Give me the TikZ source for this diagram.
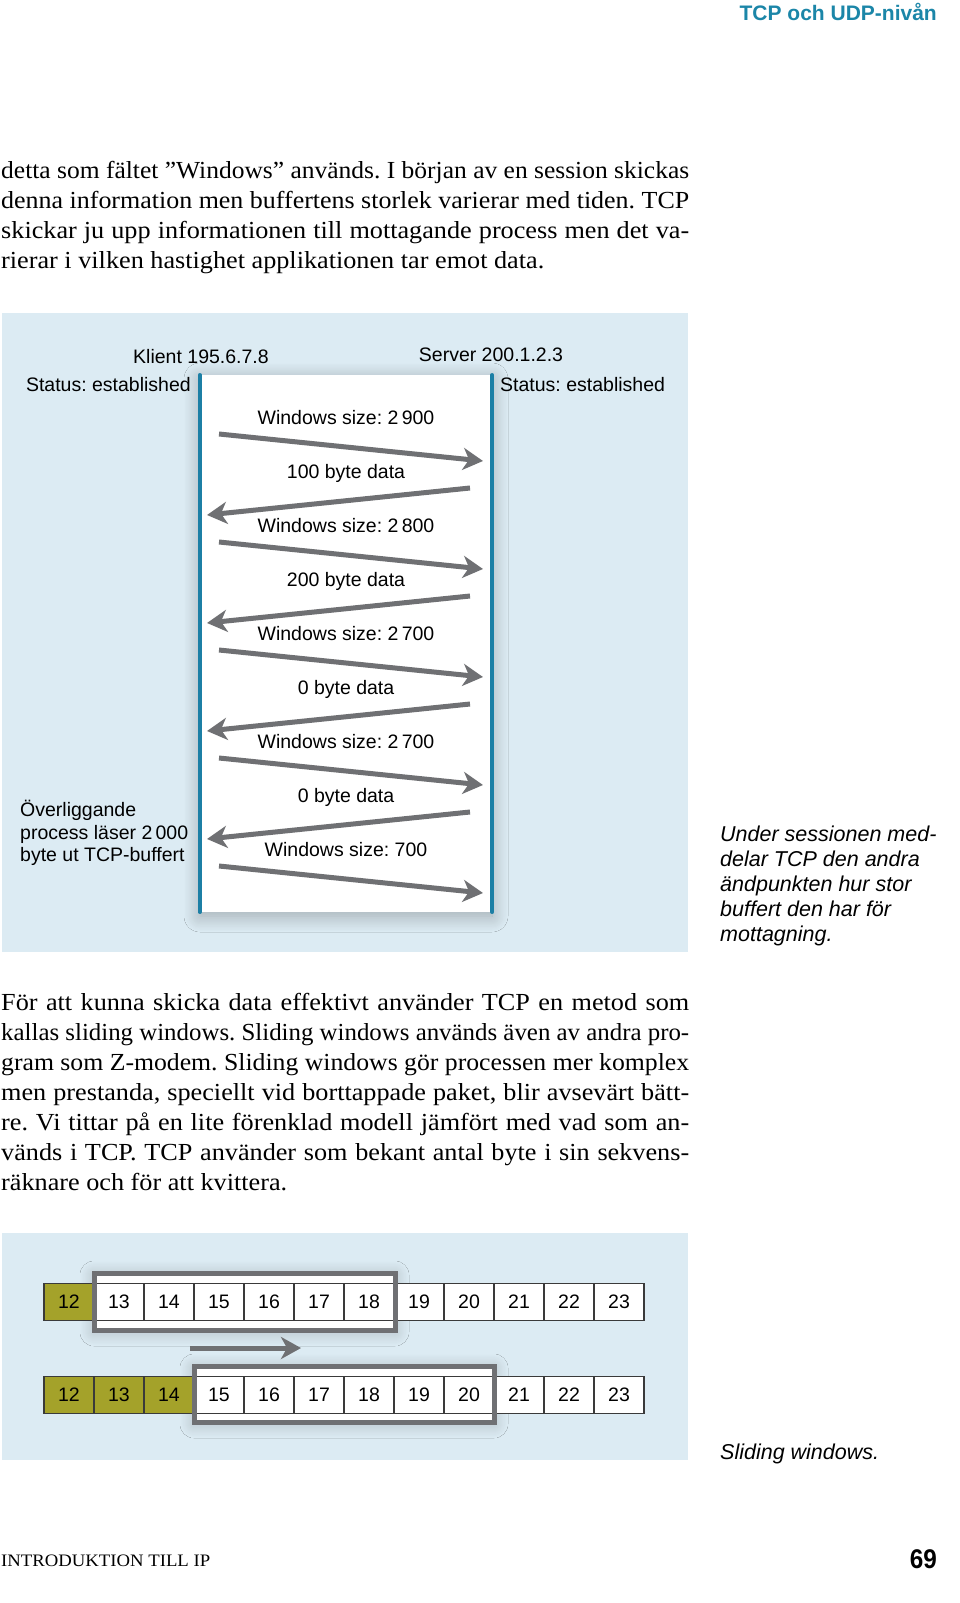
\documentclass[tikz,border=0pt]{standalone}
\usepackage{fontspec}
\setmainfont{Liberation Serif}[FakeStretch=1.07]
\setsansfont{Liberation Sans}
\usepackage{xcolor}
\usepackage{tikz}
\usetikzlibrary{positioning,arrows.meta,shadows.blur}

\definecolor{panelblue}{HTML}{DCEBF3}
\definecolor{lifeblue}{HTML}{1C7FA5}
\definecolor{arrowgray}{HTML}{6F7073}
\definecolor{cellolive}{HTML}{A4A22A}
\definecolor{cellline}{HTML}{3A3A3A}
\definecolor{headteal}{HTML}{1B86A8}

\newcommand{\msgfont}{\sffamily\fontsize{19.5}{22.5}\selectfont}
\newcommand{\capfont}{\sffamily\itshape\fontsize{21.5}{25}\selectfont}
\newcommand{\txtfont}{\fontsize{24.5}{30}\selectfont}

% one justified line of body text, 688pt wide
\newsavebox{\linebox}
\newcommand{\jline}[1]{\sbox{\linebox}{#1}%
    \ifdim\wd\linebox>688pt\resizebox{688pt}{\height}{\usebox{\linebox}}%
    \else\makebox[688pt][s]{#1}\fi}

\begin{document}
\frenchspacing
\begin{tikzpicture}[x=1pt,y=1pt,node distance=54pt,
    msg/.style={font=\msgfont, inner sep=0pt, text height=14pt, text depth=4pt},
    txt/.style={anchor=base west, inner sep=0pt, font=\txtfont},
    arr/.style={draw=arrowgray, line width=5pt, -{Stealth[length=20pt,width=22pt,inset=6pt]}},
    life/.style={draw=lifeblue, line width=3.5pt, line cap=round},
    cell/.style={draw=cellline, line width=1.2pt, fill=white, minimum width=50pt,
        minimum height=37pt, inner sep=0pt, outer sep=0pt, font=\msgfont},
    done/.style={cell, fill=cellolive},
    win/.style={fill=white, inner sep=0pt, outer sep=0pt,
        blur shadow={shadow xshift=0pt, shadow yshift=-2pt, shadow blur radius=14pt,
            shadow blur steps=15, shadow opacity=22}},
    winedge/.style={draw=arrowgray, line width=5pt}]

    \path[use as bounding box, fill=white] (0,0) rectangle (960,-1603);

    % header and body text
    \node[anchor=base east, inner sep=0pt, text=headteal, font=\sffamily\bfseries\fontsize{21}{21}\selectfont] (head) at (937,-21) {TCP och UDP-nivån};

    \node[txt] (p1) at (1,-178) {\jline{detta som fältet ”Windows” används. I början av en session skickas}};
    \node[txt] (p2) at (1,-208) {\jline{denna information men buffertens storlek varierar med tiden. TCP}};
    \node[txt] (p3) at (1,-238) {\jline{skickar ju upp informationen till mottagande process men det va-}};
    \node[txt] (p4) at (1,-268) {rierar i vilken hastighet applikationen tar emot data.};

    % session diagram
    \fill[panelblue] (2,-313) rectangle (688,-952);
    \node[fill=white, minimum width=292pt, minimum height=537pt, inner sep=0pt,
        blur shadow={shadow xshift=0pt, shadow yshift=-4pt, shadow blur radius=16pt,
            shadow blur steps=15, shadow opacity=28}] (pane) at (346,-643.5) {};
    \draw[life] (pane.north west) -- (pane.south west);
    \draw[life] (pane.north east) -- (pane.south east);

    \node[anchor=base, inner sep=0pt, font=\msgfont] (klient) at (201,-363) {Klient 195.6.7.8};
    \node[anchor=base, inner sep=0pt, font=\msgfont] (server) at (491,-361) {Server 200.1.2.3};
    \node[anchor=base east, inner sep=0pt, font=\msgfont] (kstat) at (191,-391) {Status: established};
    \node[anchor=base west, inner sep=0pt, font=\msgfont] (sstat) at (500,-391) {Status: established};

    \node[msg] (w1) at (346,-419) {Windows size: 2\,900};
    \node[msg, below of=w1] (d1) {100 byte data};
    \node[msg, below of=d1] (w2) {Windows size: 2\,800};
    \node[msg, below of=w2] (d2) {200 byte data};
    \node[msg, below of=d2] (w3) {Windows size: 2\,700};
    \node[msg, below of=w3] (d3) {0 byte data};
    \node[msg, below of=d3] (w4) {Windows size: 2\,700};
    \node[msg, below of=w4] (d4) {0 byte data};
    \node[msg, below of=d4] (w5) {Windows size: 700};

    \coordinate (k1) at (219,-434);  \coordinate (s1) at (483,-461);
    \coordinate (s2) at (470,-488);  \coordinate (k2) at (207,-515);
    \coordinate (k3) at (219,-542);  \coordinate (s3) at (483,-569);
    \coordinate (s4) at (470,-596);  \coordinate (k4) at (207,-623);
    \coordinate (k5) at (219,-650);  \coordinate (s5) at (483,-677);
    \coordinate (s6) at (470,-704);  \coordinate (k6) at (207,-731);
    \coordinate (k7) at (219,-758);  \coordinate (s7) at (483,-785);
    \coordinate (s8) at (470,-812);  \coordinate (k8) at (207,-839);
    \coordinate (k9) at (219,-866);  \coordinate (s9) at (483,-893);

    \draw[arr] (k1) -- (s1);
    \draw[arr] (s2) -- (k2);
    \draw[arr] (k3) -- (s3);
    \draw[arr] (s4) -- (k4);
    \draw[arr] (k5) -- (s5);
    \draw[arr] (s6) -- (k6);
    \draw[arr] (k7) -- (s7);
    \draw[arr] (s8) -- (k8);
    \draw[arr] (k9) -- (s9);

    \node[anchor=west, align=left, inner sep=0pt, font=\msgfont] (note) at (20,-833) {Överliggande\\process läser 2\,000\\byte ut TCP-buffert};
    \node[anchor=west, align=left, inner sep=0pt, font=\capfont] (cap1) at (720,-886) {Under sessionen med-\\delar TCP den andra\\ändpunkten hur stor\\buffert den har för\\mottagning.};

    % second body text
    \node[txt] (q1) at (1,-1010) {\jline{För att kunna skicka data effektivt använder TCP en metod som}};
    \node[txt] (q2) at (1,-1040) {\jline{kallas sliding windows. Sliding windows används även av andra pro-}};
    \node[txt] (q3) at (1,-1070) {\jline{gram som Z-modem. Sliding windows gör processen mer komplex}};
    \node[txt] (q4) at (1,-1100) {\jline{men prestanda, speciellt vid borttappade paket, blir avsevärt bätt-}};
    \node[txt] (q5) at (1,-1130) {\jline{re. Vi tittar på en lite förenklad modell jämfört med vad som an-}};
    \node[txt] (q6) at (1,-1160) {\jline{vänds i TCP. TCP använder som bekant antal byte i sin sekvens-}};
    \node[txt] (q7) at (1,-1190) {räknare och för att kvittera.};

    % sliding windows
    \fill[panelblue] (2,-1233) rectangle (688,-1460);
    \node[win, minimum width=301pt, minimum height=57pt] (win1) at (244.5,-1301.5) {};
    \node[win, minimum width=300pt, minimum height=56pt] (win2) at (344,-1394) {};

    \node[done] (r12) at (69,-1302) {12};
    \node[cell, right=0pt of r12] (r13) {13};
    \node[cell, right=0pt of r13] (r14) {14};
    \node[cell, right=0pt of r14] (r15) {15};
    \node[cell, right=0pt of r15] (r16) {16};
    \node[cell, right=0pt of r16] (r17) {17};
    \node[cell, right=0pt of r17] (r18) {18};
    \node[cell, right=0pt of r18] (r19) {19};
    \node[cell, right=0pt of r19] (r20) {20};
    \node[cell, right=0pt of r20] (r21) {21};
    \node[cell, right=0pt of r21] (r22) {22};
    \node[cell, right=0pt of r22] (r23) {23};

    \node[done] (t12) at (69,-1395) {12};
    \node[done, right=0pt of t12] (t13) {13};
    \node[done, right=0pt of t13] (t14) {14};
    \node[cell, right=0pt of t14] (t15) {15};
    \node[cell, right=0pt of t15] (t16) {16};
    \node[cell, right=0pt of t16] (t17) {17};
    \node[cell, right=0pt of t17] (t18) {18};
    \node[cell, right=0pt of t18] (t19) {19};
    \node[cell, right=0pt of t19] (t20) {20};
    \node[cell, right=0pt of t20] (t21) {21};
    \node[cell, right=0pt of t21] (t22) {22};
    \node[cell, right=0pt of t22] (t23) {23};

    \draw[winedge] (win1.north west) rectangle (win1.south east);
    \draw[winedge] (win2.north west) rectangle (win2.south east);

    \coordinate (shiftA) at (190,-1348);
    \coordinate (shiftB) at (301,-1348);
    \draw[arr] (shiftA) -- (shiftB);

    \node[anchor=base west, inner sep=0pt, font=\capfont] (cap2) at (720,-1459) {Sliding windows.};

    % footer
    \node[anchor=base west, inner sep=0pt, font=\fontsize{17.5}{18}\selectfont] (foot) at (1,-1566) {INTRODUKTION TILL IP};
    \node[anchor=base east, inner sep=0pt, font=\sffamily\bfseries\fontsize{27}{27}\selectfont] (page) at (937,-1568) {\scalebox{0.9}[1]{69}};
\end{tikzpicture}
\end{document}
